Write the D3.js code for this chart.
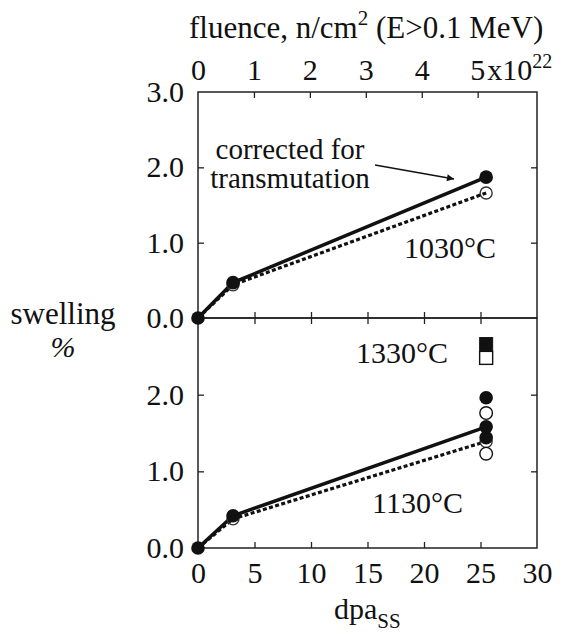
<!DOCTYPE html>
<html>
<head>
<meta charset="utf-8">
<script src="https://cdn.jsdelivr.net/npm/d3@7"></script>
<style>
  html, body { margin: 0; padding: 0; background: #fff; }
  svg { display: block; }
</style>
</head>
<body>
<svg id="chart" width="564" height="635"></svg>
<script>
// dose axis (dpa in stainless steel) and the matching neutron fluence ticks
const dpaTicks = [0, 5, 10, 15, 20, 25, 30];
const fluenceTicks = [0, 1, 2, 3, 4, 5];
const dpaPerFluence = 4.95;            // dpa per 1e22 n/cm2
const swellTicksTop = [0, 1, 2, 3];
const swellTicksBottom = [0, 1, 2];

// measured doses
const dose = [0, 3.1, 25.5];

// 1030 C
const s1030Corrected = [0, 0.47, 1.87];
const s1030Measured  = [0, 0.44, 1.66];

// 1130 C
const s1130Corrected = [0, 0.42, 1.58];
const s1130Measured  = [0, 0.38, 1.39];
const s1130ExtraDose = 25.5;
const s1130ExtraCorrected = [1.96, 1.44];
const s1130ExtraMeasured  = [1.76, 1.23];

// 1330 C
const s1330Dose = 25.5;
const s1330Corrected = [2.66];
const s1330Measured  = [2.48];

const SERIF = "Liberation Serif";
const svg = d3.select("#chart").attr("font-family", SERIF);
const left = 198, right = 537;
const topY0 = 92, topY1 = 318, botY1 = 548;
const FS = 30;

const x = d3.scaleLinear().domain([0, 30]).range([left, right]);
const xf = d3.scaleLinear().domain([0, 30 / dpaPerFluence]).range([left, right]);
const yTop = d3.scaleLinear().domain([0, 3]).range([topY1, topY0]);
const yBot = d3.scaleLinear().domain([0, 3]).range([botY1, topY1]);

function styleAxis(g) {
  g.attr("font-family", SERIF).attr("font-size", FS);
  g.select(".domain").remove();
  g.selectAll(".tick line").attr("stroke", "#222").attr("stroke-width", 1.3);
  g.selectAll("text").attr("font-family", SERIF).attr("font-size", FS).attr("fill", "#111");
}

// frames
[[topY0, topY1], [topY1, botY1]].forEach(([a, b]) => {
  svg.append("rect").attr("x", left).attr("y", a)
    .attr("width", right - left).attr("height", b - a)
    .attr("fill", "none").attr("stroke", "#222").attr("stroke-width", 1.5);
});

const inner = 6;
const innerTicks = dpaTicks.slice(1, -1);

// top: fluence axis
svg.append("g").attr("transform", `translate(0,${topY0})`)
  .call(d3.axisTop(xf).tickValues(fluenceTicks).tickSizeInner(-inner).tickSizeOuter(0)
    .tickPadding(12).tickFormat(d3.format("d")))
  .call(styleAxis)
  .call(g => {
    g.selectAll(".tick line").filter(d => d === 0).remove();
    g.selectAll(".tick text").attr("dy", "0");
    g.selectAll(".tick text").filter(d => d === 5).each(function () {
      const t = d3.select(this).text("").attr("text-anchor", "start").attr("x", -8);
      t.append("tspan").text("5");
      t.append("tspan").attr("dx", 2).text("x10");
      t.append("tspan").attr("dy", -12).attr("font-size", 20).text("22");
    });
  });

// bottom of top panel (ticks inward, no labels)
svg.append("g").attr("transform", `translate(0,${topY1})`)
  .call(d3.axisBottom(x).tickValues(innerTicks).tickSizeInner(-inner).tickSizeOuter(0).tickFormat(""))
  .call(styleAxis);
// top of bottom panel
svg.append("g").attr("transform", `translate(0,${topY1})`)
  .call(d3.axisTop(x).tickValues(innerTicks).tickSizeInner(-inner).tickSizeOuter(0).tickFormat(""))
  .call(styleAxis);
// bottom dpa axis
svg.append("g").attr("transform", `translate(0,${botY1})`)
  .call(d3.axisBottom(x).tickValues(dpaTicks).tickSizeInner(-inner).tickSizeOuter(0)
    .tickPadding(14).tickFormat(d3.format("d")))
  .call(styleAxis)
  .call(g => g.selectAll(".tick line").filter(d => d === 0 || d === 30).remove());

// left swelling axes
svg.append("g").attr("transform", `translate(${left},0)`)
  .call(d3.axisLeft(yTop).tickValues(swellTicksTop).tickSizeInner(-inner).tickSizeOuter(0)
    .tickPadding(14).tickFormat(d3.format(".1f")))
  .call(styleAxis)
  .call(g => g.selectAll(".tick line").filter(d => d === 0 || d === 3).remove());
svg.append("g").attr("transform", `translate(${left},0)`)
  .call(d3.axisLeft(yBot).tickValues(swellTicksBottom).tickSizeInner(-inner).tickSizeOuter(0)
    .tickPadding(14).tickFormat(d3.format(".1f")))
  .call(styleAxis)
  .call(g => g.selectAll(".tick line").filter(d => d === 0).remove());

// right-side ticks
[yTop, yBot].forEach(sc => {
  svg.append("g").attr("transform", `translate(${right},0)`)
    .call(d3.axisRight(sc).tickValues([1, 2]).tickSizeInner(-inner).tickSizeOuter(0).tickFormat(""))
    .call(styleAxis);
});

// series
const line = (ys) => d3.line().x((d, i) => x(dose[i])).y(d => ys(d));

function drawPanel(sc, corrected, measured) {
  svg.append("path").datum(measured).attr("d", line(sc))
    .attr("fill", "none").attr("stroke", "#111").attr("stroke-width", 3.2)
    .attr("stroke-dasharray", "4,2.4");
  svg.append("path").datum(corrected).attr("d", line(sc))
    .attr("fill", "none").attr("stroke", "#111").attr("stroke-width", 3.5);
  svg.selectAll(null).data(measured.slice(1)).enter().append("circle")
    .attr("cx", (d, i) => x(dose[i + 1])).attr("cy", d => sc(d)).attr("r", 6)
    .attr("fill", "none").attr("stroke", "#333").attr("stroke-width", 1.4);
  svg.selectAll(null).data(corrected).enter().append("circle")
    .attr("cx", (d, i) => x(dose[i])).attr("cy", d => sc(d)).attr("r", 6.8)
    .attr("fill", "#111");
}

drawPanel(yTop, s1030Corrected, s1030Measured);
drawPanel(yBot, s1130Corrected, s1130Measured);

// additional 1130 C specimens
svg.selectAll(null).data(s1130ExtraMeasured).enter().append("circle")
  .attr("cx", x(s1130ExtraDose)).attr("cy", d => yBot(d)).attr("r", 6.3)
  .attr("fill", "#fff").attr("stroke", "#111").attr("stroke-width", 1.4);
svg.selectAll(null).data(s1130ExtraCorrected).enter().append("circle")
  .attr("cx", x(s1130ExtraDose)).attr("cy", d => yBot(d)).attr("r", 6.8)
  .attr("fill", "#111");

// 1330 C squares
const sq = 13;
svg.selectAll(null).data(s1330Measured).enter().append("rect")
  .attr("x", x(s1330Dose) - sq / 2).attr("y", d => yBot(d) - sq / 2)
  .attr("width", sq).attr("height", sq)
  .attr("fill", "#fff").attr("stroke", "#111").attr("stroke-width", 1.4);
svg.selectAll(null).data(s1330Corrected).enter().append("rect")
  .attr("x", x(s1330Dose) - sq / 2).attr("y", d => yBot(d) - sq / 2)
  .attr("width", sq).attr("height", sq)
  .attr("fill", "#111").attr("stroke", "#111").attr("stroke-width", 1);

// temperature labels
const label = (tx, ty, s, anchor, size) => svg.append("text").attr("x", tx).attr("y", ty)
  .attr("text-anchor", anchor || "start").attr("font-family", SERIF)
  .attr("font-size", size || FS).attr("fill", "#111").text(s);
label(404, 258, "1030°C");
label(372, 513, "1130°C");
label(356, 363, "1330°C");

// annotation
label(290, 159, "corrected for", "middle", 29);
label(290, 188, "transmutation", "middle", 29);
svg.append("defs").append("marker").attr("id", "arrow")
  .attr("viewBox", "0 0 10 10").attr("refX", 10).attr("refY", 5)
  .attr("markerWidth", 11).attr("markerHeight", 7).attr("markerUnits", "userSpaceOnUse")
  .attr("orient", "auto")
  .append("path").attr("d", "M0,0 L10,5 L0,10 Z").attr("fill", "#111");
svg.append("line").attr("x1", 375).attr("y1", 165).attr("x2", 454).attr("y2", 179)
  .attr("stroke", "#111").attr("stroke-width", 1.3).attr("marker-end", "url(#arrow)");

// axis titles
const ft = svg.append("text").attr("x", 189).attr("y", 38)
  .attr("font-family", SERIF).attr("font-size", 31).attr("fill", "#111");
ft.append("tspan").text("fluence, n/cm");
ft.append("tspan").attr("dy", -13).attr("font-size", 21).text("2");
ft.append("tspan").attr("dy", 13).text(" (E>0.1 MeV)");

const xt = svg.append("text").attr("x", 334).attr("y", 619)
  .attr("font-family", SERIF).attr("font-size", FS).attr("fill", "#111");
xt.append("tspan").text("dpa");
xt.append("tspan").attr("dy", 9).attr("font-size", 21).text("SS");

label(63, 324, "swelling", "middle", 31);
svg.append("text").attr("x", 63).attr("y", 357).attr("text-anchor", "middle")
  .attr("font-family", SERIF).attr("font-size", FS).attr("font-style", "italic")
  .attr("fill", "#111").text("%");
</script>
</body>
</html>
